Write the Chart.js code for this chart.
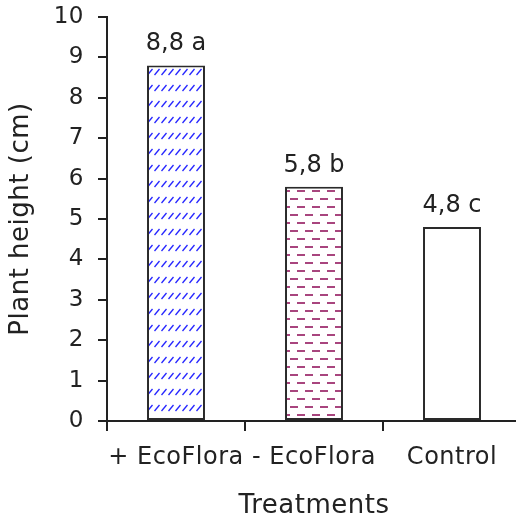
<!DOCTYPE html>
<html><head><meta charset="utf-8">
<script src="https://cdn.jsdelivr.net/npm/chart.js@4/dist/chart.umd.min.js"></script>
<style>html,body{margin:0;padding:0;background:#fff;overflow:hidden}#wrap{width:521px;height:519px;position:relative}</style>
</head><body><div id="wrap"><canvas id="c"></canvas></div>
<script>
const categories = ['+ EcoFlora', '- EcoFlora', 'Control'];
const heights = [8.8, 5.8, 4.8];
const letters = ['a', 'b', 'c'];
const yMin = 0, yMax = 10, yStep = 1;

const FONT = 'DejaVu Sans';
const INK = '#222';

function hatchPattern() {
  const c = document.createElement('canvas'); c.width = 7; c.height = 16;
  const g = c.getContext('2d');
  g.fillStyle = '#fff'; g.fillRect(0, 0, 7, 16);
  g.strokeStyle = '#2626ff'; g.lineWidth = 1.3;
  g.beginPath(); g.moveTo(0.5, 11); g.lineTo(5.5, 5); g.stroke();
  return g.createPattern(c, 'repeat');
}
function dashPattern() {
  const c = document.createElement('canvas'); c.width = 15; c.height = 16;
  const g = c.getContext('2d');
  g.fillStyle = '#fff'; g.fillRect(0, 0, 15, 16);
  g.fillStyle = '#a8457e';
  g.fillRect(5, 6, 8, 2);
  g.fillRect(12, 14, 3, 2); g.fillRect(0, 14, 5, 2);
  return g.createPattern(c, 'repeat');
}
const fills = [hatchPattern(), dashPattern(), '#ffffff'];

const spacing = {
  id: 'spacing',
  beforeDraw(chart) { chart.ctx.letterSpacing = '0.5px'; },
  afterDraw(chart) { chart.ctx.letterSpacing = '0px'; }
};

const barLabels = {
  id: 'barLabels',
  afterDatasetsDraw(chart) {
    const ctx = chart.ctx;
    const meta = chart.getDatasetMeta(0);
    ctx.save();
    ctx.letterSpacing = '0px';
    ctx.font = '24px "' + FONT + '"';
    ctx.fillStyle = INK;
    ctx.textAlign = 'center';
    ctx.textBaseline = 'alphabetic';
    meta.data.forEach((bar, i) => {
      const txt = heights[i].toFixed(1).replace('.', ',') + ' ' + letters[i];
      ctx.fillText(txt, bar.x, bar.y - 15);
    });
    ctx.restore();
  }
};

new Chart(document.getElementById('c'), {
  type: 'bar',
  data: {
    labels: categories,
    datasets: [{
      data: heights,
      backgroundColor: fills,
      borderColor: '#2a2a2a',
      borderWidth: 2,
      borderSkipped: false,
      barPercentage: 0.42,
      categoryPercentage: 1
    }]
  },
  options: {
    responsive: true, maintainAspectRatio: false, animation: false,
    devicePixelRatio: 1,
    layout: { padding: { left: 0, right: 0, top: 17, bottom: 0 } },
    plugins: { legend: { display: false }, tooltip: { enabled: false } },
    scales: {
      x: {
        grid: { offset: true, drawOnChartArea: false, tickLength: 10, color: INK, lineWidth: 2 },
        border: { display: true, color: INK, width: 2 },
        ticks: { font: { family: FONT, size: 24 }, color: INK, padding: 12, maxRotation: 0, autoSkip: false },
        title: { display: true, text: 'Treatments', color: INK, font: { family: FONT, size: 26, lineHeight: 1 }, padding: { top: 0, bottom: 0 } },
        afterFit: s => { s.height = 98; s.paddingLeft = 0; s.paddingRight = 0; }
      },
      y: {
        min: yMin, max: yMax,
        grid: { drawOnChartArea: false, tickLength: 9, color: INK, lineWidth: 2 },
        border: { display: true, color: INK, width: 2 },
        ticks: { stepSize: yStep, font: { family: FONT, size: 23 }, color: INK, padding: 14 },
        title: { display: true, text: 'Plant height (cm)', color: INK, font: { family: FONT, size: 26, lineHeight: 1.2 }, padding: { top: 6, bottom: 0 } },
        afterFit: s => { s.width = 107; s.paddingTop = 0; s.paddingBottom = 0; }
      }
    }
  },
  plugins: [spacing, barLabels]
});
</script>
</body></html>
